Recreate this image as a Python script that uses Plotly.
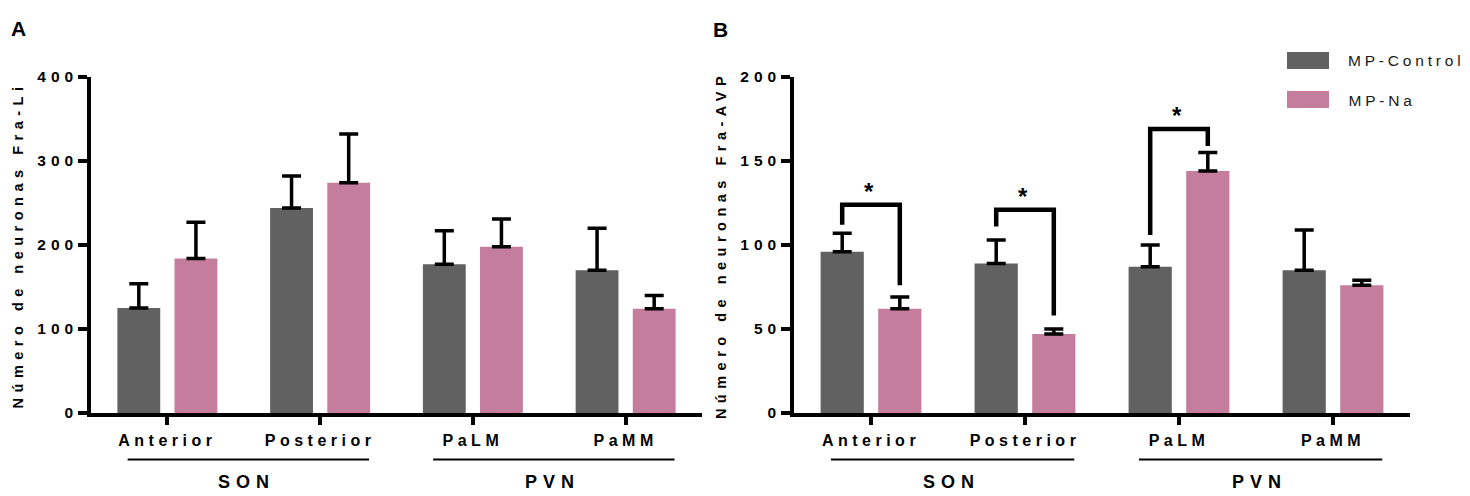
import plotly.graph_objects as go

# ---------------- data ----------------
regions = ["Anterior", "Posterior", "PaLM", "PaMM"]
nuclei = ["SON", "PVN"]
nucleus_members = [[0, 1], [2, 3]]          # region indices belonging to each nucleus
series_names = ["MP-Control", "MP-Na"]

# Panel A: Número de neuronas Fra-Li
fra_li_control = [125, 244, 177, 170]
fra_li_control_sem = [29, 38, 40, 50]
fra_li_na = [184, 274, 198, 124]
fra_li_na_sem = [43, 58, 33, 16]

# Panel B: Número de neuronas Fra-AVP
fra_avp_control = [96, 89, 87, 85]
fra_avp_control_sem = [11, 14, 13, 24]
fra_avp_na = [62, 47, 144, 76]
fra_avp_na_sem = [7, 3, 11, 3]

# significance brackets in panel B (region index, bracket top, left-leg end, right-leg end)
sig_regions = [0, 1, 2]
sig_top = [124, 121, 169]
sig_left_end = [112, 111, 106]
sig_right_end = [76, 58, 159]
sig_label = ["*", "*", "*"]

y_range_a = [0, 400]
y_dtick_a = 100
y_range_b = [0, 200]
y_dtick_b = 50

# ---------------- style ----------------
W, H = 1470, 496
ML, MR, MT, MB = 91, 60, 77, 83
PW, PH = W - ML - MR, H - MT - MB
FONT = "Liberation Sans, Arial, sans-serif"
C_CTRL = "#616161"
C_NA = "#C47D9D"
BARGAP, GROUPGAP = 0.252, 0.25
slot = (1 - BARGAP) / 2        # centre offset of each bar from category centre = slot/2
LS_XT, LS_YT, LS_TITLE, LS_GROUP, LS_LEG = 4.5, 5, 5.5, 6, 3.8


def px_x(p):
    return (p - ML) / PW


def px_y(p):
    return (H - MB - p) / PH


xpos = [i + 0.5 for i in range(len(regions))]

fig = go.Figure()


def add_panel(ctrl, ctrl_sem, na, na_sem, xa, ya):
    for vals, sem, name, col in [(ctrl, ctrl_sem, series_names[0], C_CTRL),
                                 (na, na_sem, series_names[1], C_NA)]:
        fig.add_trace(go.Bar(
            x=xpos, y=vals, name=name, marker=dict(color=col, line=dict(width=0)),
            error_y=dict(type="data", array=sem, arrayminus=[0] * len(sem), symmetric=False,
                         thickness=3.5, width=9.5, color="black"),
            xaxis=xa, yaxis=ya, showlegend=False))


add_panel(fra_li_control, fra_li_control_sem, fra_li_na, fra_li_na_sem, "x", "y")
add_panel(fra_avp_control, fra_avp_control_sem, fra_avp_na, fra_avp_na_sem, "x2", "y2")

axis_common = dict(showline=True, linewidth=3.5, linecolor="black", showgrid=False,
                   zeroline=False, ticks="outside", tickwidth=3.5, tickcolor="black",
                   fixedrange=True)
xaxis_common = dict(axis_common, range=[0, len(regions)], tickvals=xpos, ticktext=regions,
                    ticklen=8, ticklabelstandoff=2,
                    tickfont=dict(family=FONT, size=16, color="black", weight="bold"))
yfont = dict(family=FONT, size=15.5, color="black", weight="bold")
title_font = dict(family=FONT, size=14.5, color="black", weight="bold")

shapes = []
annotations = []

# group underlines and nucleus labels
for xref in ["x", "x2"]:
    for name, members in zip(nuclei, nucleus_members):
        c0, c1 = xpos[members[0]], xpos[members[-1]]
        shapes.append(dict(type="line", xref=xref, yref="paper", x0=c0 - 0.26, x1=c1 + 0.32,
                           y0=px_y(459.5), y1=px_y(459.5), line=dict(color="black", width=2)))
        annotations.append(dict(xref=xref, yref="paper", x=(c0 + c1) / 2, y=px_y(482),
                                text=name, showarrow=False, xanchor="center", yanchor="middle",
                                xshift=LS_GROUP / 2,
                                font=dict(family=FONT, size=18, color="black", weight="bold")))

# significance brackets
off = slot / 2
for r, top, le, re, lab in zip(sig_regions, sig_top, sig_left_end, sig_right_end, sig_label):
    xl, xr = xpos[r] - off, xpos[r] + off
    shapes.append(dict(type="path", xref="x2", yref="y2",
                       path=f"M {xl},{le} L {xl},{top} L {xr},{top} L {xr},{re}",
                       line=dict(color="black", width=4.5)))
    annotations.append(dict(xref="x2", yref="y2", x=xpos[r], y=top, text=lab, showarrow=False,
                            xanchor="center", yanchor="bottom", yshift=-2, xshift=-2,
                            font=dict(family=FONT, size=24, color="black", weight="bold")))

# panel letters
annotations.append(dict(xref="paper", yref="paper", x=px_x(18), y=px_y(28), text="A",
                        showarrow=False, xanchor="center", yanchor="middle",
                        font=dict(family=FONT, size=21, color="black", weight="bold")))
annotations.append(dict(xref="paper", yref="paper", x=px_x(720), y=px_y(29), text="B",
                        showarrow=False, xanchor="center", yanchor="middle",
                        font=dict(family=FONT, size=21, color="black", weight="bold")))

# legend (drawn manually to match the wide swatches)
for i, (name, col) in enumerate(zip(series_names, [C_CTRL, C_NA])):
    ytop = 52 + 39 * i
    shapes.append(dict(type="rect", xref="paper", yref="paper", x0=px_x(1287), x1=px_x(1329),
                       y0=px_y(ytop + 17), y1=px_y(ytop), fillcolor=col, line=dict(width=0)))
    # letter-spacing is applied around the text centre, so compensate half of the added width
    annotations.append(dict(xref="paper", yref="paper", x=px_x(1346), y=px_y(ytop + 9),
                            text=name, showarrow=False, xanchor="left", yanchor="middle",
                            xshift=len(name) * LS_LEG / 2,
                            font=dict(family=FONT, size=15.5, color="#1a1a1a")))

fig.update_layout(
    width=W, height=H, margin=dict(l=ML, r=MR, t=MT, b=MB),
    paper_bgcolor="white", plot_bgcolor="white",
    barmode="group", bargap=BARGAP, bargroupgap=GROUPGAP,
    xaxis=dict(xaxis_common, domain=[0, px_x(702)], anchor="y"),
    xaxis2=dict(xaxis_common, domain=[px_x(794), 1], anchor="y2"),
    yaxis=dict(axis_common, range=y_range_a, dtick=y_dtick_a, ticklen=9, tickfont=yfont,
               ticklabelstandoff=-3, anchor="x",
               title=dict(text="Número de neuronas Fra-Li", font=title_font, standoff=26)),
    yaxis2=dict(axis_common, range=y_range_b, dtick=y_dtick_b, ticklen=9, tickfont=yfont,
                ticklabelstandoff=-3, anchor="x2",
                title=dict(text="Número de neuronas Fra-AVP", font=title_font, standoff=26)),
    shapes=shapes, annotations=annotations, showlegend=False,
)

post = """
document.body.style.margin = '0';
var gd = document.getElementById('{plot_id}');
function sp(sel, v) { gd.querySelectorAll(sel).forEach(function(t){ t.style.letterSpacing = v + 'px'; t.style.fontWeight = 'bold'; }); }
sp('.xtick text', %s); sp('.x2tick text', %s);
sp('.ytick text', %s); sp('.y2tick text', %s);
sp('.ytitle', %s); sp('.y2title', %s);
var groups = %s, legendNames = %s;
gd.querySelectorAll('.annotation-text').forEach(function(t){
  var s = t.textContent;
  if (groups.indexOf(s) >= 0) t.style.letterSpacing = '%spx';
  if (legendNames.indexOf(s) >= 0) t.style.letterSpacing = '%spx';
});
""" % (LS_XT, LS_XT, LS_YT, LS_YT, LS_TITLE, LS_TITLE, str(nuclei), str(series_names),
       LS_GROUP, LS_LEG)

fig.write_html("out.html", post_script=post, config={"displayModeBar": False, "responsive": False})
